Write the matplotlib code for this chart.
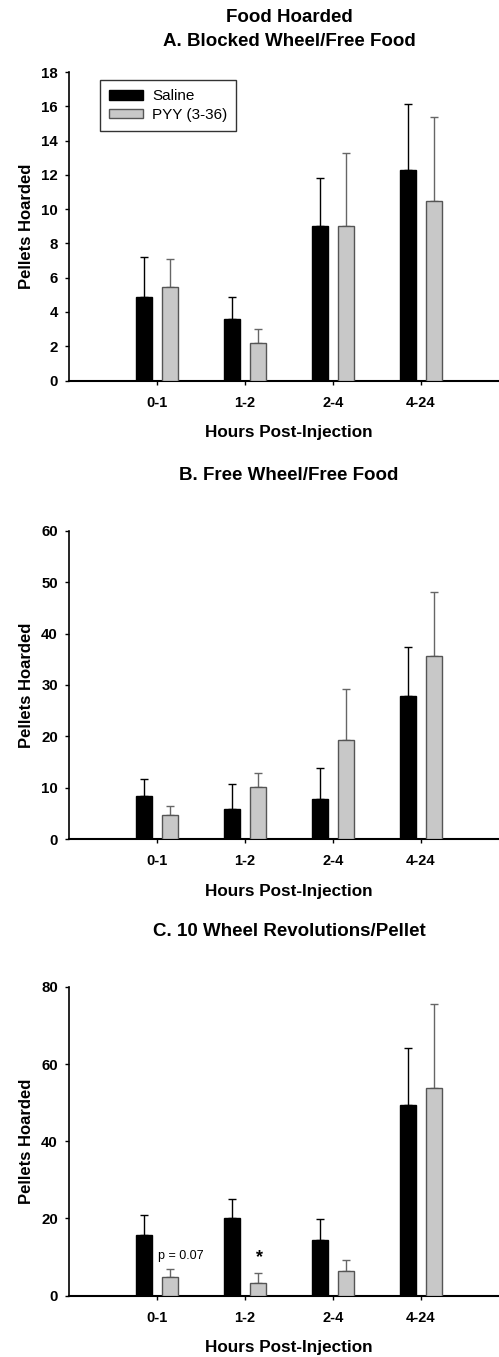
import numpy as np
import matplotlib
matplotlib.use('Agg')
import matplotlib.pyplot as plt
from matplotlib.patches import Patch

plt.rcParams['font.family'] = ['Liberation Sans', 'DejaVu Sans']

# Catégories (heures après injection)
hours = ['0-1', '1-2', '2-4', '4-24']

# A. Blocked Wheel/Free Food
a_saline = [4.9, 3.6, 9.0, 12.3]
a_saline_sem = [2.3, 1.27, 2.8, 3.83]
a_pyy = [5.45, 2.2, 9.0, 10.45]
a_pyy_sem = [1.63, 0.83, 4.28, 4.91]

# B. Free Wheel/Free Food
b_saline = [8.35, 5.9, 7.9, 27.9]
b_saline_sem = [3.45, 4.8, 6.0, 9.55]
b_pyy = [4.8, 10.1, 19.25, 35.65]
b_pyy_sem = [1.6, 2.75, 9.95, 12.45]

# C. 10 Wheel Revolutions/Pellet
c_saline = [15.8, 20.2, 14.5, 49.35]
c_saline_sem = [5.0, 4.9, 5.3, 14.75]
c_pyy = [4.75, 3.2, 6.3, 53.7]
c_pyy_sem = [2.05, 2.6, 3.0, 21.9]

W, H = 499, 1357
fig = plt.figure(figsize=(W / 100, H / 100), dpi=100)

gris = '#c8c8c8'
x = np.arange(1, len(hours) + 1)
larg = 0.18
dec = 0.148


def panneau(top_px, sal, sal_sem, pyy, pyy_sem, ymax, ystep):
    bas = 1 - (top_px + 308.5) / H
    ax = fig.add_axes([69 / W, bas, 440 / W, 308.5 / H])
    ax.bar(x - dec, sal, larg, color='black', edgecolor='black', linewidth=1, zorder=3)
    ax.bar(x + dec, pyy, larg, color=gris, edgecolor='#555555', linewidth=1, zorder=3)
    ax.errorbar(x - dec, sal, yerr=[np.zeros(4), sal_sem], fmt='none',
                ecolor='black', elinewidth=1, capsize=2.8, capthick=1, zorder=2)
    ax.errorbar(x + dec, pyy, yerr=[np.zeros(4), pyy_sem], fmt='none',
                ecolor='#666666', elinewidth=1, capsize=2.8, capthick=1, zorder=2)
    ax.set_xlim(0, 5)
    ax.set_ylim(0, ymax)
    ax.set_yticks(np.arange(0, ymax + 0.1, ystep))
    ax.set_xticks(x)
    ax.set_xticklabels(hours, fontsize=10.5, fontweight='bold')
    for lab in ax.get_yticklabels():
        lab.set_fontsize(10.8)
        lab.set_fontweight('bold')
    ax.spines['top'].set_visible(False)
    ax.spines['right'].set_visible(False)
    ax.spines['left'].set_linewidth(1.2)
    ax.spines['bottom'].set_linewidth(1.5)
    ax.tick_params(axis='x', length=3, width=1, pad=8)
    ax.tick_params(axis='y', length=3, width=1, pad=5)
    ax.set_xlabel('Hours Post-Injection', fontsize=12.3, fontweight='bold', labelpad=11)
    ax.set_ylabel('Pellets Hoarded', fontsize=12, fontweight='bold')
    ax.yaxis.set_label_coords(-35 / 440, 0.5)
    return ax


axA = panneau(72, a_saline, a_saline_sem, a_pyy, a_pyy_sem, 18, 2)
axB = panneau(530.7, b_saline, b_saline_sem, b_pyy, b_pyy_sem, 60, 10)
axC = panneau(987, c_saline, c_saline_sem, c_pyy, c_pyy_sem, 80, 20)

# Titres
fig.text(289 / W, 1 - 18 / H, 'Food Hoarded', ha='center', va='center',
         fontsize=13.5, fontweight='bold')
fig.text(289 / W, 1 - 41 / H, 'A. Blocked Wheel/Free Food', ha='center', va='center',
         fontsize=13.5, fontweight='bold')
fig.text(289 / W, 1 - 476 / H, 'B. Free Wheel/Free Food', ha='center', va='center',
         fontsize=13.5, fontweight='bold')
fig.text(289 / W, 1 - 931 / H, 'C. 10 Wheel Revolutions/Pellet', ha='center', va='center',
         fontsize=13.5, fontweight='bold')

# Légende
poignees = [Patch(facecolor='black', edgecolor='black', label='Saline'),
            Patch(facecolor=gris, edgecolor='#555555', label='PYY (3-36)')]
leg = axA.legend(handles=poignees, loc='upper left', bbox_to_anchor=(0.0705, 0.974),
                 borderaxespad=0, fontsize=11, frameon=True, fancybox=False,
                 handlelength=2.2, handleheight=0.6, borderpad=0.6,
                 labelspacing=0.3, handletextpad=0.6)
leg.get_frame().set_edgecolor('black')
leg.get_frame().set_linewidth(1)

# Annotations panneau C
axC.text(1 + 0.27, 10.3, 'p = 0.07', ha='center', va='center', fontsize=9)
axC.text(2 + 0.16, 9.8, '*', ha='center', va='center', fontsize=13, fontweight='bold')

fig.savefig('out.png', dpi=100)
